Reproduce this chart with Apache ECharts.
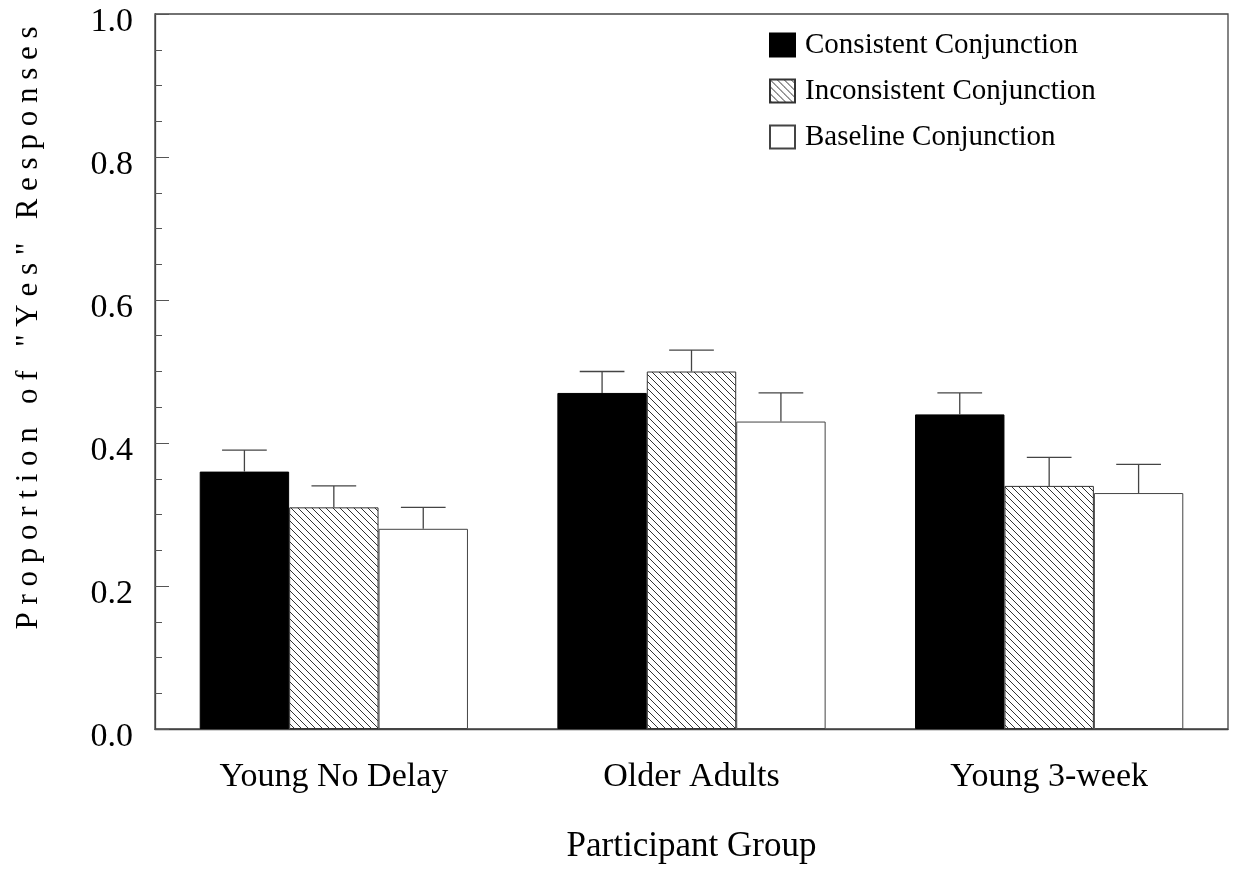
<!DOCTYPE html>
<html>
<head>
<meta charset="utf-8">
<script src="https://cdn.jsdelivr.net/npm/echarts@6/dist/echarts.min.js"></script>
<style>
html,body{margin:0;padding:0;background:#fff;}
#chart{width:1237px;height:869px;}
</style>
</head>
<body>
<div id="chart"></div>
<script>
var categories = ['Young No Delay', 'Older Adults', 'Young 3-week'];
var seriesNames = ['Consistent Conjunction', 'Inconsistent Conjunction', 'Baseline Conjunction'];
var consistent = [0.36, 0.47, 0.44];
var inconsistent = [0.31, 0.50, 0.34];
var baseline = [0.28, 0.43, 0.33];
var consistentErr = [0.39, 0.50, 0.47];
var inconsistentErr = [0.34, 0.53, 0.38];
var baselineErr = [0.31, 0.47, 0.37];
var yTicks = [0.0, 0.2, 0.4, 0.6, 0.8, 1.0];

var FONT = "'Liberation Serif', 'Times New Roman', serif";

function hatchPattern() {
  var s = 7;
  var c = document.createElement('canvas');
  c.width = s; c.height = s;
  var ctx = c.getContext('2d');
  ctx.fillStyle = '#ffffff';
  ctx.fillRect(0, 0, s, s);
  ctx.strokeStyle = '#333333';
  ctx.lineWidth = 1;
  ctx.beginPath();
  ctx.moveTo(-1, -1); ctx.lineTo(s + 1, s + 1);
  ctx.moveTo(-1, s - 1); ctx.lineTo(1, s + 1);
  ctx.moveTo(s - 1, -1); ctx.lineTo(s + 1, 1);
  ctx.stroke();
  return c;
}

var values = [consistent, inconsistent, baseline];
var errs = [consistentErr, inconsistentErr, baselineErr];
var styles = [
  {color: '#000000', borderColor: '#000000', borderWidth: 1},
  {color: {image: hatchPattern(), repeat: 'repeat'}, borderColor: '#333333', borderWidth: 1},
  {color: '#ffffff', borderColor: '#444444', borderWidth: 1}
];

var series = [];
values.forEach(function (v, i) {
  series.push({
    name: seriesNames[i],
    type: 'bar',
    data: v,
    barGap: '0%',
    barCategoryGap: '25%',
    itemStyle: styles[i],
    emphasis: {disabled: true},
    z: 2
  });
});

var errData = [];
errs.forEach(function (e, i) {
  e.forEach(function (top, c) {
    errData.push([c, values[i][c], top, i]);
  });
});

series.push({
  type: 'custom',
  name: 'errors',
  data: errData,
  encode: {x: 0, y: [1, 2]},
  z: 3,
  silent: true,
  renderItem: function (params, api) {
    var c = api.value(0);
    var base = api.coord([c, api.value(1)]);
    var top = api.coord([c, api.value(2)]);
    var band = api.size([1, 0])[0];
    var barW = band * 0.75 / 3;
    var x = base[0] + (api.value(3) - 1) * barW;
    var half = barW / 4;
    var st = {stroke: '#444444', lineWidth: 1.3};
    return {
      type: 'group',
      children: [
        {type: 'line', shape: {x1: x, y1: base[1], x2: x, y2: top[1]}, style: st},
        {type: 'line', shape: {x1: x - half, y1: top[1], x2: x + half, y2: top[1]}, style: st}
      ]
    };
  }
});

var chart = echarts.init(document.getElementById('chart'));
chart.setOption({
  animation: false,
  backgroundColor: '#ffffff',
  textStyle: {fontFamily: FONT},
  grid: {left: 155, right: 9, top: 14, bottom: 137, show: true, borderColor: '#444444', borderWidth: 1.3, containLabel: false},
  legend: {
    orient: 'vertical',
    left: 764,
    top: 25,
    itemWidth: 25,
    itemHeight: 23,
    itemGap: 16,
    icon: 'rect',
    data: seriesNames,
    selectedMode: false,
    textStyle: {fontFamily: FONT, fontSize: 29, color: '#000', padding: [0, 0, 0, 5], lineHeight: 30}
  },
  xAxis: {
    type: 'category',
    data: categories,
    axisLine: {lineStyle: {color: '#444444', width: 1.3}},
    axisTick: {show: false},
    axisLabel: {fontFamily: FONT, fontSize: 34, color: '#000', margin: 31},
    name: 'Participant Group',
    nameLocation: 'middle',
    nameGap: 100,
    nameTextStyle: {fontFamily: FONT, fontSize: 35, color: '#000'}
  },
  yAxis: {
    type: 'value',
    min: 0,
    max: 1,
    interval: 0.2,
    splitLine: {show: false},
    axisLine: {show: true, lineStyle: {color: '#444444', width: 1.3}},
    axisTick: {show: true, inside: true, length: 14, lineStyle: {color: '#555'}},
    minorTick: {show: true, splitNumber: 4, length: 7, lineStyle: {color: '#555'}},
    axisLabel: {
      fontFamily: FONT, fontSize: 34, color: '#000', margin: 22,
      verticalAlign: 'top',
      lineHeight: 16,
      formatter: function (v) {
        var m = yTicks.filter(function (t) { return Math.abs(t - v) < 1e-9; });
        return m.length ? m[0].toFixed(1) : '';
      }
    }
  },
  graphic: [{
    type: 'text',
    x: 29,
    y: 328,
    rotation: Math.PI / 2,
    style: {
      text: 'P r o p o r t i o n   o f   " Y e s "   R e s p o n s e s',
      fontFamily: FONT,
      fontSize: 31,
      fill: '#000',
      align: 'center',
      verticalAlign: 'middle'
    }
  }],
  series: series
});
</script>
</body>
</html>
